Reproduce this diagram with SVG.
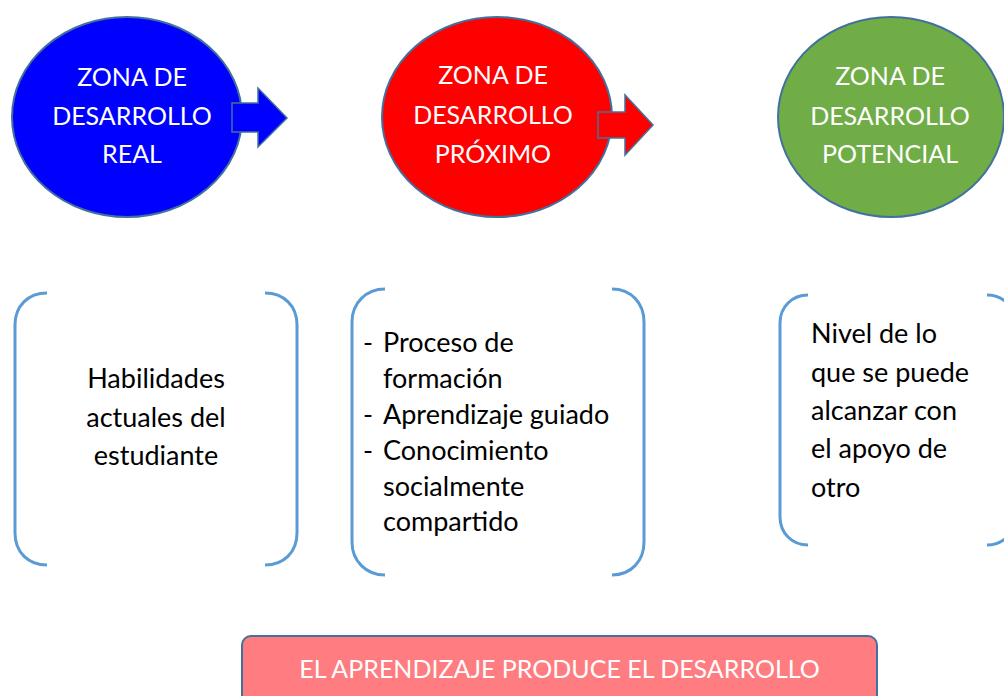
<svg xmlns="http://www.w3.org/2000/svg" width="1004" height="696" viewBox="0 0 1004 696">
<style>
.ell{stroke:#41719C;stroke-width:2}
.arr{stroke:#41719C;stroke-width:1.5}
.zt{font-family:Lato,"Open Sans","Liberation Sans",sans-serif;font-size:25px;fill:#ffffff;text-anchor:middle}
.bt{font-family:Lato,"Open Sans","Liberation Sans",sans-serif;font-size:27px;fill:#000000}
.br{fill:none;stroke:#5B9BD5;stroke-width:3}
</style>
<rect width="1004" height="696" fill="#ffffff"/>
<g id="zona-real">
<ellipse class="ell" cx="127" cy="117" rx="115" ry="100" fill="#0000FF"/>
<text class="zt" x="132" y="86">ZONA DE</text>
<text class="zt" x="132" y="125">DESARROLLO</text>
<text class="zt" x="132" y="163">REAL</text>
</g>
<g id="zona-proximo">
<ellipse class="ell" cx="497" cy="117" rx="115" ry="100" fill="#FF0000"/>
<text class="zt" x="493" y="84">ZONA DE</text>
<text class="zt" x="493" y="124">DESARROLLO</text>
<text class="zt" x="493" y="163">PRÓXIMO</text>
</g>
<g id="zona-potencial">
<ellipse class="ell" cx="891" cy="117" rx="113" ry="100" fill="#70AD47"/>
<text class="zt" x="890" y="85">ZONA DE</text>
<text class="zt" x="890" y="125">DESARROLLO</text>
<text class="zt" x="890" y="163">POTENCIAL</text>
</g>
<g id="connectors">
<polygon class="arr" fill="#0000FF" points="232,103 258,103 258,88 287,118 258,147 258,132 232,132"/>
<polygon class="arr" fill="#FF0000" points="598,112 625,112 625,95 653,125 625,155 625,138 598,138"/>
</g>
<g id="habilidades">
<path class="br" d="M47,293 C28,293 15,306 15,325 L15,533 C15,552 28,565 47,565"/>
<path class="br" d="M265,293 C284,293 297,306 297,325 L297,533 C297,552 284,565 265,565"/>
<text class="bt" x="156" y="388" text-anchor="middle">Habilidades</text>
<text class="bt" x="156" y="427" text-anchor="middle">actuales del</text>
<text class="bt" x="156" y="465" text-anchor="middle">estudiante</text>
</g>
<g id="proceso">
<path class="br" d="M385,289 C366,289 352,303 352,322 L352,542 C352,561 366,575 385,575"/>
<path class="br" d="M612,289 C631,289 644,303 644,322 L644,542 C644,561 631,575 612,575"/>
<text class="bt" x="363" y="352">-</text>
<text class="bt" x="383" y="352">Proceso de</text>
<text class="bt" x="383" y="388">formación</text>
<text class="bt" x="363" y="424">-</text>
<text class="bt" x="383" y="424">Aprendizaje guiado</text>
<text class="bt" x="363" y="460">-</text>
<text class="bt" x="383" y="460">Conocimiento</text>
<text class="bt" x="383" y="496">socialmente</text>
<text class="bt" x="383" y="531">compartido</text>
</g>
<g id="nivel">
<path class="br" d="M808,295 C792,295 780,307 780,323 L780,517 C780,533 792,545 808,545"/>
<path class="br" d="M987,295 C1003,295 1015,307 1015,323 L1015,517 C1015,533 1003,545 987,545"/>
<text class="bt" x="811" y="343">Nivel de lo</text>
<text class="bt" x="811" y="382">que se puede</text>
<text class="bt" x="811" y="420">alcanzar con</text>
<text class="bt" x="811" y="458">el apoyo de</text>
<text class="bt" x="811" y="497">otro</text>
</g>
<g id="conclusion">
<rect x="242" y="636" width="635" height="80" rx="9" fill="#FF7C80" stroke="#41719C" stroke-width="2"/>
<text class="zt" x="559.5" y="678">EL APRENDIZAJE PRODUCE EL DESARROLLO</text>
</g>
</svg>
